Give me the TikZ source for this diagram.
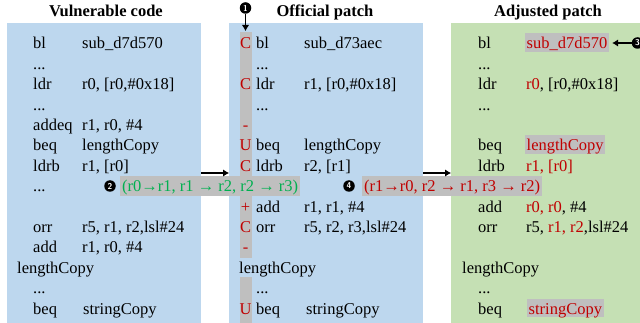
\documentclass[tikz,border=0pt]{standalone}
\usepackage{fontspec}
\setmainfont{Liberation Serif}
\usetikzlibrary{arrows.meta}

\definecolor{panelblue}{HTML}{BDD7EE}
\definecolor{panelgreen}{HTML}{C5E0B4}
\definecolor{hlgray}{HTML}{BFBFBF}
\definecolor{codered}{HTML}{C00000}
\definecolor{codegreen}{HTML}{00B050}

\begin{document}
\begin{tikzpicture}[x=1pt,y=-1pt,
  every node/.style={font=\fontsize{16.5}{19}\selectfont, inner sep=0pt},
  code/.style={anchor=base west},
  flag/.style={anchor=base, text=codered},
  title/.style={anchor=base, font=\fontsize{16.5}{19}\selectfont\bfseries},
  panel/.style={anchor=north west, minimum height=300pt, draw=none},
  hl/.style={anchor=base west, fill=hlgray, text=codered, inner xsep=1.5pt,
    inner ysep=0pt, text height=15.5pt, text depth=3pt},
  band/.style={anchor=base west, fill=hlgray, inner xsep=2pt, inner ysep=0pt,
    text height=15.8pt, text depth=4.2pt},
  marker/.style={circle, fill=black, text=white, minimum size=11.5pt,
    font=\sffamily\bfseries\fontsize{8.5}{9}\selectfont},
  arr/.style={-{Latex[length=6pt,width=7.5pt]}, line width=1.3pt},
]
\useasboundingbox (0,0) rectangle (640,323);

% panels
\node[panel, fill=panelblue, minimum width=194pt] (vuln) at (7,23) {};
\node[panel, fill=panelblue, minimum width=194pt] (patch) at (229,23) {};
\node[panel, fill=panelgreen, minimum width=195pt] (adj) at (451,23) {};

% titles
\node[title] (tv) at (106,17) {Vulnerable code};
\node[title] (tp) at (325,17) {Official patch};
\node[title] (ta) at (548,17) {Adjusted patch};

% change-flag column of the official patch
\fill[hlgray] (239.5,32) rectangle (251.5,258);
\fill[hlgray] (239.5,277) rectangle (251.5,323);
\coordinate (striptop) at (245.5,31);

% ---- vulnerable code ----
\node[code] (v0m) at (33,49) {bl};      \node[code] (v0o) at (82,49) {sub\_d7d570};
\node[code] (v1m) at (33,69.4) {...};
\node[code] (v2m) at (33,89.8) {ldr};   \node[code] (v2o) at (82,89.8) {r0, [r0,\#0x18]};
\node[code] (v3m) at (33,110.2) {...};
\node[code] (v4m) at (33,130.6) {addeq};\node[code] (v4o) at (82,130.6) {r1, r0, \#4};
\node[code] (v5m) at (33,151) {beq};    \node[code] (v5o) at (82,151) {lengthCopy};
\node[code] (v6m) at (33,171.4) {ldrb}; \node[code] (v6o) at (82,171.4) {r1, [r0]};
\node[code] (v7m) at (33,191.8) {...};
\node[code] (v9m) at (33,232.6) {orr};  \node[code] (v9o) at (82,232.6) {r5, r1, r2,lsl\#24};
\node[code] (v10m) at (33,253) {add};   \node[code] (v10o) at (82,253) {r1, r0, \#4};
\node[code] (v11m) at (17,273.4) {lengthCopy};
\node[code] (v12m) at (33,293.8) {...};
\node[code] (v13m) at (33,314.2) {beq}; \node[code] (v13o) at (83,314.2) {stringCopy};

% ---- official patch ----
\node[flag] (f0) at (245.5,49) {C};
\node[flag] (f2) at (245.5,89.8) {C};
\node[flag] (f4) at (245.5,130.6) {-};
\node[flag] (f5) at (245.5,151) {U};
\node[flag] (f6) at (245.5,171.4) {C};
\node[flag] (f8) at (245.5,212.2) {+};
\node[flag] (f9) at (245.5,232.6) {C};
\node[flag] (f10) at (245.5,253) {-};
\node[flag] (f13) at (245.5,314.2) {U};
\node[code] (p0m) at (256,49) {bl};      \node[code] (p0o) at (304,49) {sub\_d73aec};
\node[code] (p1m) at (256,69.4) {...};
\node[code] (p2m) at (256,89.8) {ldr};   \node[code] (p2o) at (304,89.8) {r1, [r0,\#0x18]};
\node[code] (p3m) at (256,110.2) {...};
\node[code] (p5m) at (256,151) {beq};    \node[code] (p5o) at (304,151) {lengthCopy};
\node[code] (p6m) at (256,171.4) {ldrb}; \node[code] (p6o) at (304,171.4) {r2, [r1]};
\node[code] (p8m) at (256,212.2) {add};  \node[code] (p8o) at (304,212.2) {r1, r1, \#4};
\node[code] (p9m) at (256,232.6) {orr};  \node[code] (p9o) at (304,232.6) {r5, r2, r3,lsl\#24};
\node[code] (p11m) at (239,273.4) {lengthCopy};
\node[code] (p12m) at (256,293.8) {...};
\node[code] (p13m) at (256,314.2) {beq}; \node[code] (p13o) at (306,314.2) {stringCopy};

% ---- adjusted patch ----
\node[code] (a0m) at (478,49) {bl};      \node[hl] (a0o) at (525,49) {sub\_d7d570};
\node[code] (a1m) at (478,69.4) {...};
\node[code] (a2m) at (478,89.8) {ldr};   \node[code] (a2o) at (526,89.8) {\textcolor{codered}{r0}, [r0,\#0x18]};
\node[code] (a3m) at (478,110.2) {...};
\node[code] (a5m) at (478,151) {beq};    \node[hl] (a5o) at (525,151) {lengthCopy};
\node[code] (a6m) at (478,171.4) {ldrb}; \node[code] (a6o) at (526,171.4) {\textcolor{codered}{r1, [r0]}};
\node[code] (a8m) at (478,212.2) {add};  \node[code] (a8o) at (526,212.2) {\textcolor{codered}{r0, r0}, \#4};
\node[code] (a9m) at (478,232.6) {orr};  \node[code] (a9o) at (526,232.6) {r5, \textcolor{codered}{r1, r2},lsl\#24};
\node[code] (a11m) at (462,273.4) {lengthCopy};
\node[code] (a12m) at (478,293.8) {...};
\node[code] (a13m) at (478,314.2) {beq}; \node[hl] (a13o) at (527,314.2) {stringCopy};

% register mappings
\node[band, text=codegreen] (map2) at (120,191.8) {(r0→r1, r1 → r2, r2 → r3)};
\node[band, text=codered] (map4) at (362,191.8) {(r1→r0, r2 → r1, r3 → r2)};

% numbered markers
\node[marker] (m1) at (245.5,8) {1};
\node[marker] (m2) at (110,186) {2};
\node[marker] (m3) at (637.5,43) {3};
\node[marker] (m4) at (349,186) {4};

% connectors
\coordinate (flow) at (0,173);
\draw[arr] (m1.south) -- (striptop);
\draw[arr] (m3.west) -- ([xshift=3pt]a0o.east |- m3);
\draw[arr] (vuln.east |- flow) -- (patch.west |- flow);
\draw[arr] (patch.east |- flow) -- (adj.west |- flow);
\end{tikzpicture}
\end{document}
